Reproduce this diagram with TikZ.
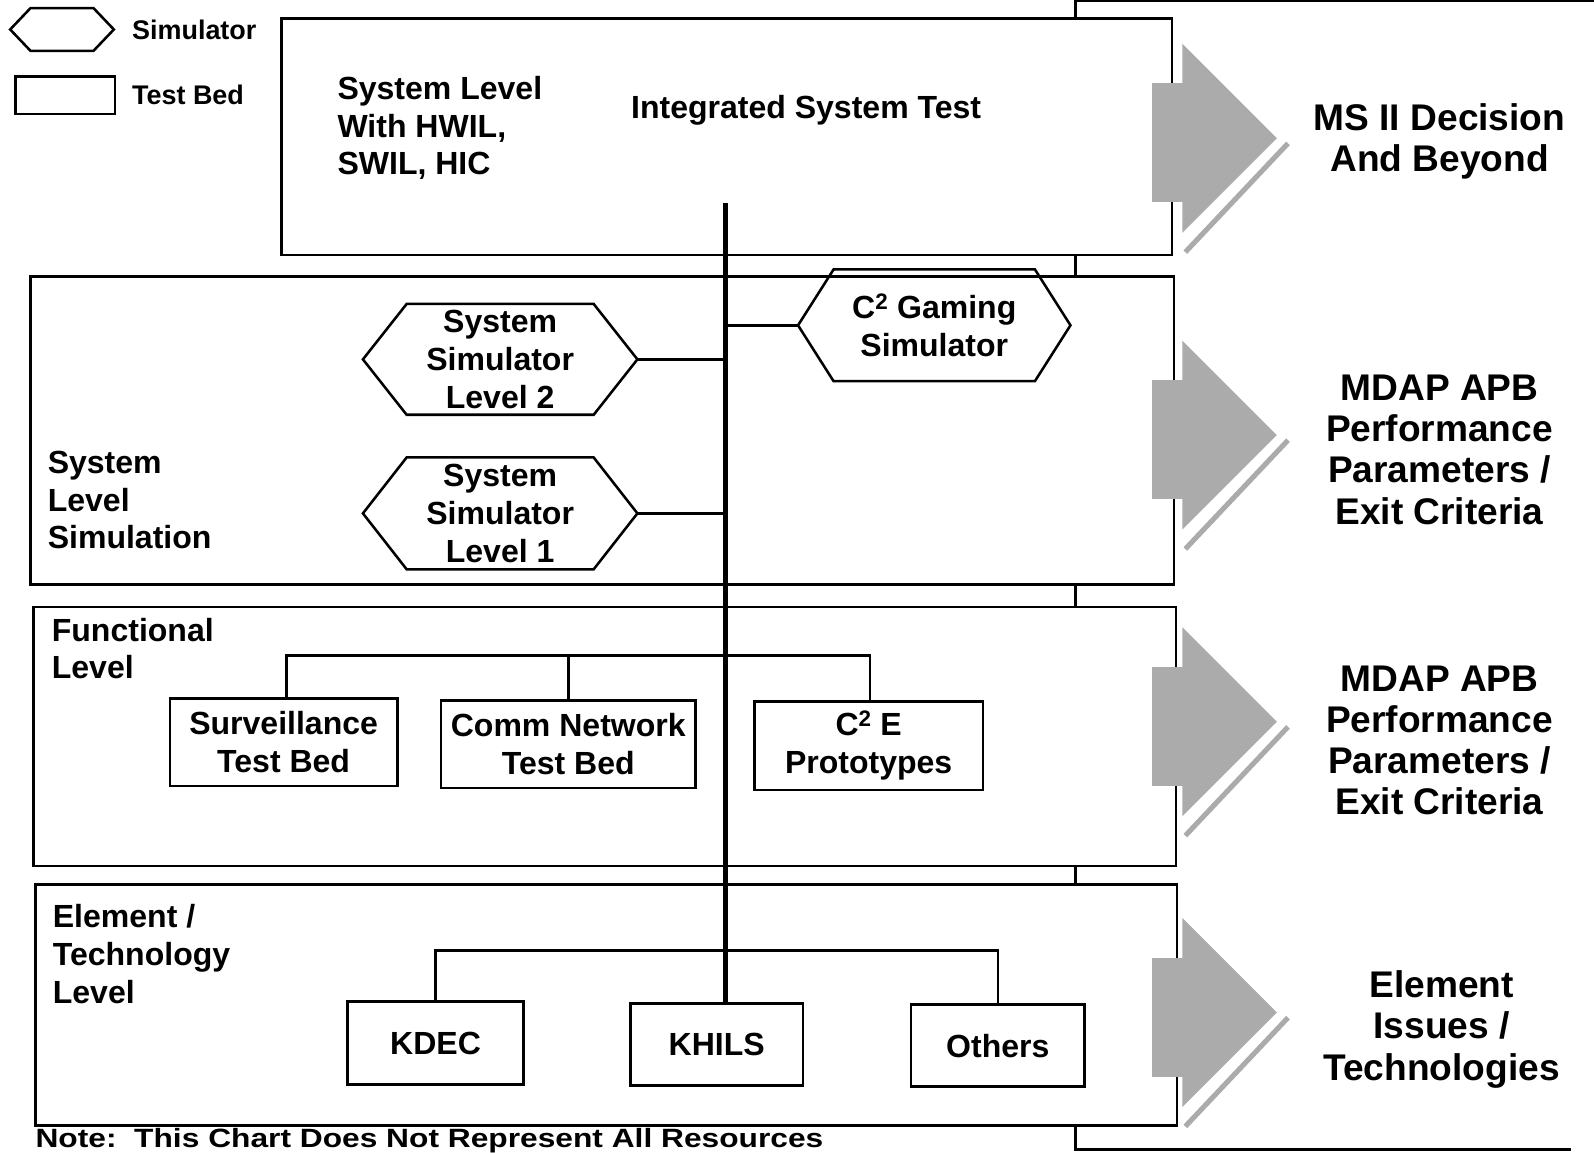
\documentclass[tikz,border=0pt]{standalone}
\usepackage{fontspec}
\setmainfont{Liberation Sans}
\newcommand\hexpath[2]{\draw[hexline] ([xshift=#2]#1.north west) -- ([xshift=-#2]#1.north east) -- (#1.east) -- ([xshift=-#2]#1.south east) -- ([xshift=#2]#1.south west) -- (#1.west) -- cycle;}
\newcommand\gainarrow[1]{%
  \fill[arr] (1133,#1-54) rectangle (1164,#1+63);
  \fill[arr] (1163,#1-93) -- (1256,#1) -- (1163,#1+93) -- cycle;
  \draw[arrstripe] (1267,#1+5) -- (1166,#1+112);}
\begin{document}
\begin{tikzpicture}[x=1pt,y=-1pt,
  every node/.style={font=\bfseries\fontsize{31.5}{37}\selectfont, inner sep=0pt, outer sep=0pt},
  panel/.style={draw, line width=2.5pt, fill=white},
  bed/.style={draw, line width=2.5pt, fill=white, align=center},
  simnode/.style={align=center},
  hexline/.style={line width=2.5pt, line join=miter},
  conn/.style={line width=2.5pt},
  spine/.style={line width=5pt},
  frameline/.style={line width=2.5pt},
  arr/.style={fill=black!33},
  arrstripe/.style={draw=black!33, line width=5pt},
  big/.style={font=\bfseries\fontsize{36.5}{40.5}\selectfont, align=center},
  leg/.style={font=\bfseries\fontsize{26.5}{31}\selectfont},
  notestyle/.style={font=\bfseries\fontsize{26}{30}\selectfont}
]
\useasboundingbox (0,0) rectangle (1568,1134);
\fill[white] (0,0) rectangle (1568,1134);

% right frame
\coordinate (ftop) at (1058,1);
\coordinate (fbot) at (1058,1131);
\draw[frameline] (1575,1) -- (ftop) -- (fbot) -- (1545,1131);

% panels
\node[panel, minimum width=876pt, minimum height=233pt] (ptop) at (715,134.5) {};
\node[panel, minimum width=1125pt, minimum height=303pt] (psim) at (592.5,423.5) {};
\node[panel, minimum width=1124pt, minimum height=255pt] (pfun) at (595,724.5) {};
\node[panel, minimum width=1123pt, minimum height=237pt] (pele) at (596.5,988.5) {};

% legend
\node[minimum width=102pt, minimum height=42pt] (leghex) at (61,29) {};
\hexpath{leghex}{20}
\node[bed, minimum width=98pt, minimum height=37pt] (legbed) at (64,93.5) {};
\node[leg, anchor=base west] (legsimtxt) at (130,38.5) {Simulator};
\node[leg, anchor=base west] (legbedtxt) at (130,102.5) {Test Bed};

% top panel texts
\node[anchor=north west, align=left] (sysleveltxt) at (332,75) {System Level\\With HWIL,\\SWIL, HIC};
\node[anchor=base] (ist) at (793,117) {Integrated System Test};

% system level simulation
\node[anchor=north west, align=left] (syslabel) at (47,444) {System\\Level\\Simulation};
\node[simnode, minimum width=270pt, minimum height=109pt] (lvl2) at (492,353.5) {System\\Simulator\\Level 2};
\hexpath{lvl2}{43}
\node[simnode, minimum width=270pt, minimum height=110pt] (lvl1) at (492,505) {System\\Simulator\\Level 1};
\hexpath{lvl1}{43}
\node[simnode, minimum width=268pt, minimum height=110pt] (c2g) at (919,320) {C\textsuperscript{2} Gaming\\Simulator};
\hexpath{c2g}{35}

% functional level
\node[anchor=north west, align=left] (funlabel) at (51,608) {Functional\\Level};
\node[bed, minimum width=224pt, minimum height=86pt] (surv) at (279,730) {Surveillance\\Test Bed};
\node[bed, minimum width=250pt, minimum height=86pt] (comm) at (559,732) {Comm Network\\Test Bed};
\node[bed, minimum width=225pt, minimum height=87pt] (c2e) at (854.5,733.5) {C\textsuperscript{2} E\\Prototypes};

% element level
\node[anchor=north west, align=left] (elelabel) at (52,890) {Element /\\Technology\\Level};
\node[bed, minimum width=173pt, minimum height=82pt] (kdec) at (428.5,1026) {KDEC};
\node[bed, minimum width=170pt, minimum height=81pt] (khils) at (705,1027.5) {KHILS};
\node[bed, minimum width=171pt, minimum height=81pt] (others) at (981.5,1028.5) {Others};

% spine and connectors
\coordinate (spinetop) at (714,200);
\coordinate (fbus) at (0,645);
\coordinate (ebus) at (0,935);
\draw[spine] (spinetop) -- (spinetop |- khils.north);
\draw[conn] (lvl2.east) -- (lvl2.east -| spinetop);
\draw[conn] (lvl1.east) -- (lvl1.east -| spinetop);
\draw[conn] (c2g.west) -- (c2g.west -| spinetop);
\draw[conn] ([xshift=3pt]surv.north) -- ([xshift=3pt]surv.north |- fbus) -- ([xshift=1.5pt]c2e.north |- fbus) -- ([xshift=1.5pt]c2e.north);
\draw[conn] (comm.north) -- (comm.north |- fbus);
\draw[conn] (kdec.north) -- (kdec.north |- ebus) -- (others.north |- ebus) -- (others.north);

% gray arrows
\gainarrow{136}
\gainarrow{428}
\gainarrow{710}
\gainarrow{996}

% right labels
\node[big, anchor=north] (ms2) at (1416,102) {MS II Decision\\And Beyond};
\node[big, anchor=north] (mdap1) at (1416,369) {MDAP APB\\Performance\\Parameters /\\Exit Criteria};
\node[big, anchor=north] (mdap2) at (1416,655) {MDAP APB\\Performance\\Parameters /\\Exit Criteria};
\node[big, anchor=north] (eliss) at (1418,955) {Element\\Issues /\\Technologies};

% note
\node[notestyle, anchor=base west] (note) at (35,1128.5) {\scalebox{1.2}[1]{Note:\ \ This Chart Does Not Represent All Resources}};
\end{tikzpicture}
\end{document}
